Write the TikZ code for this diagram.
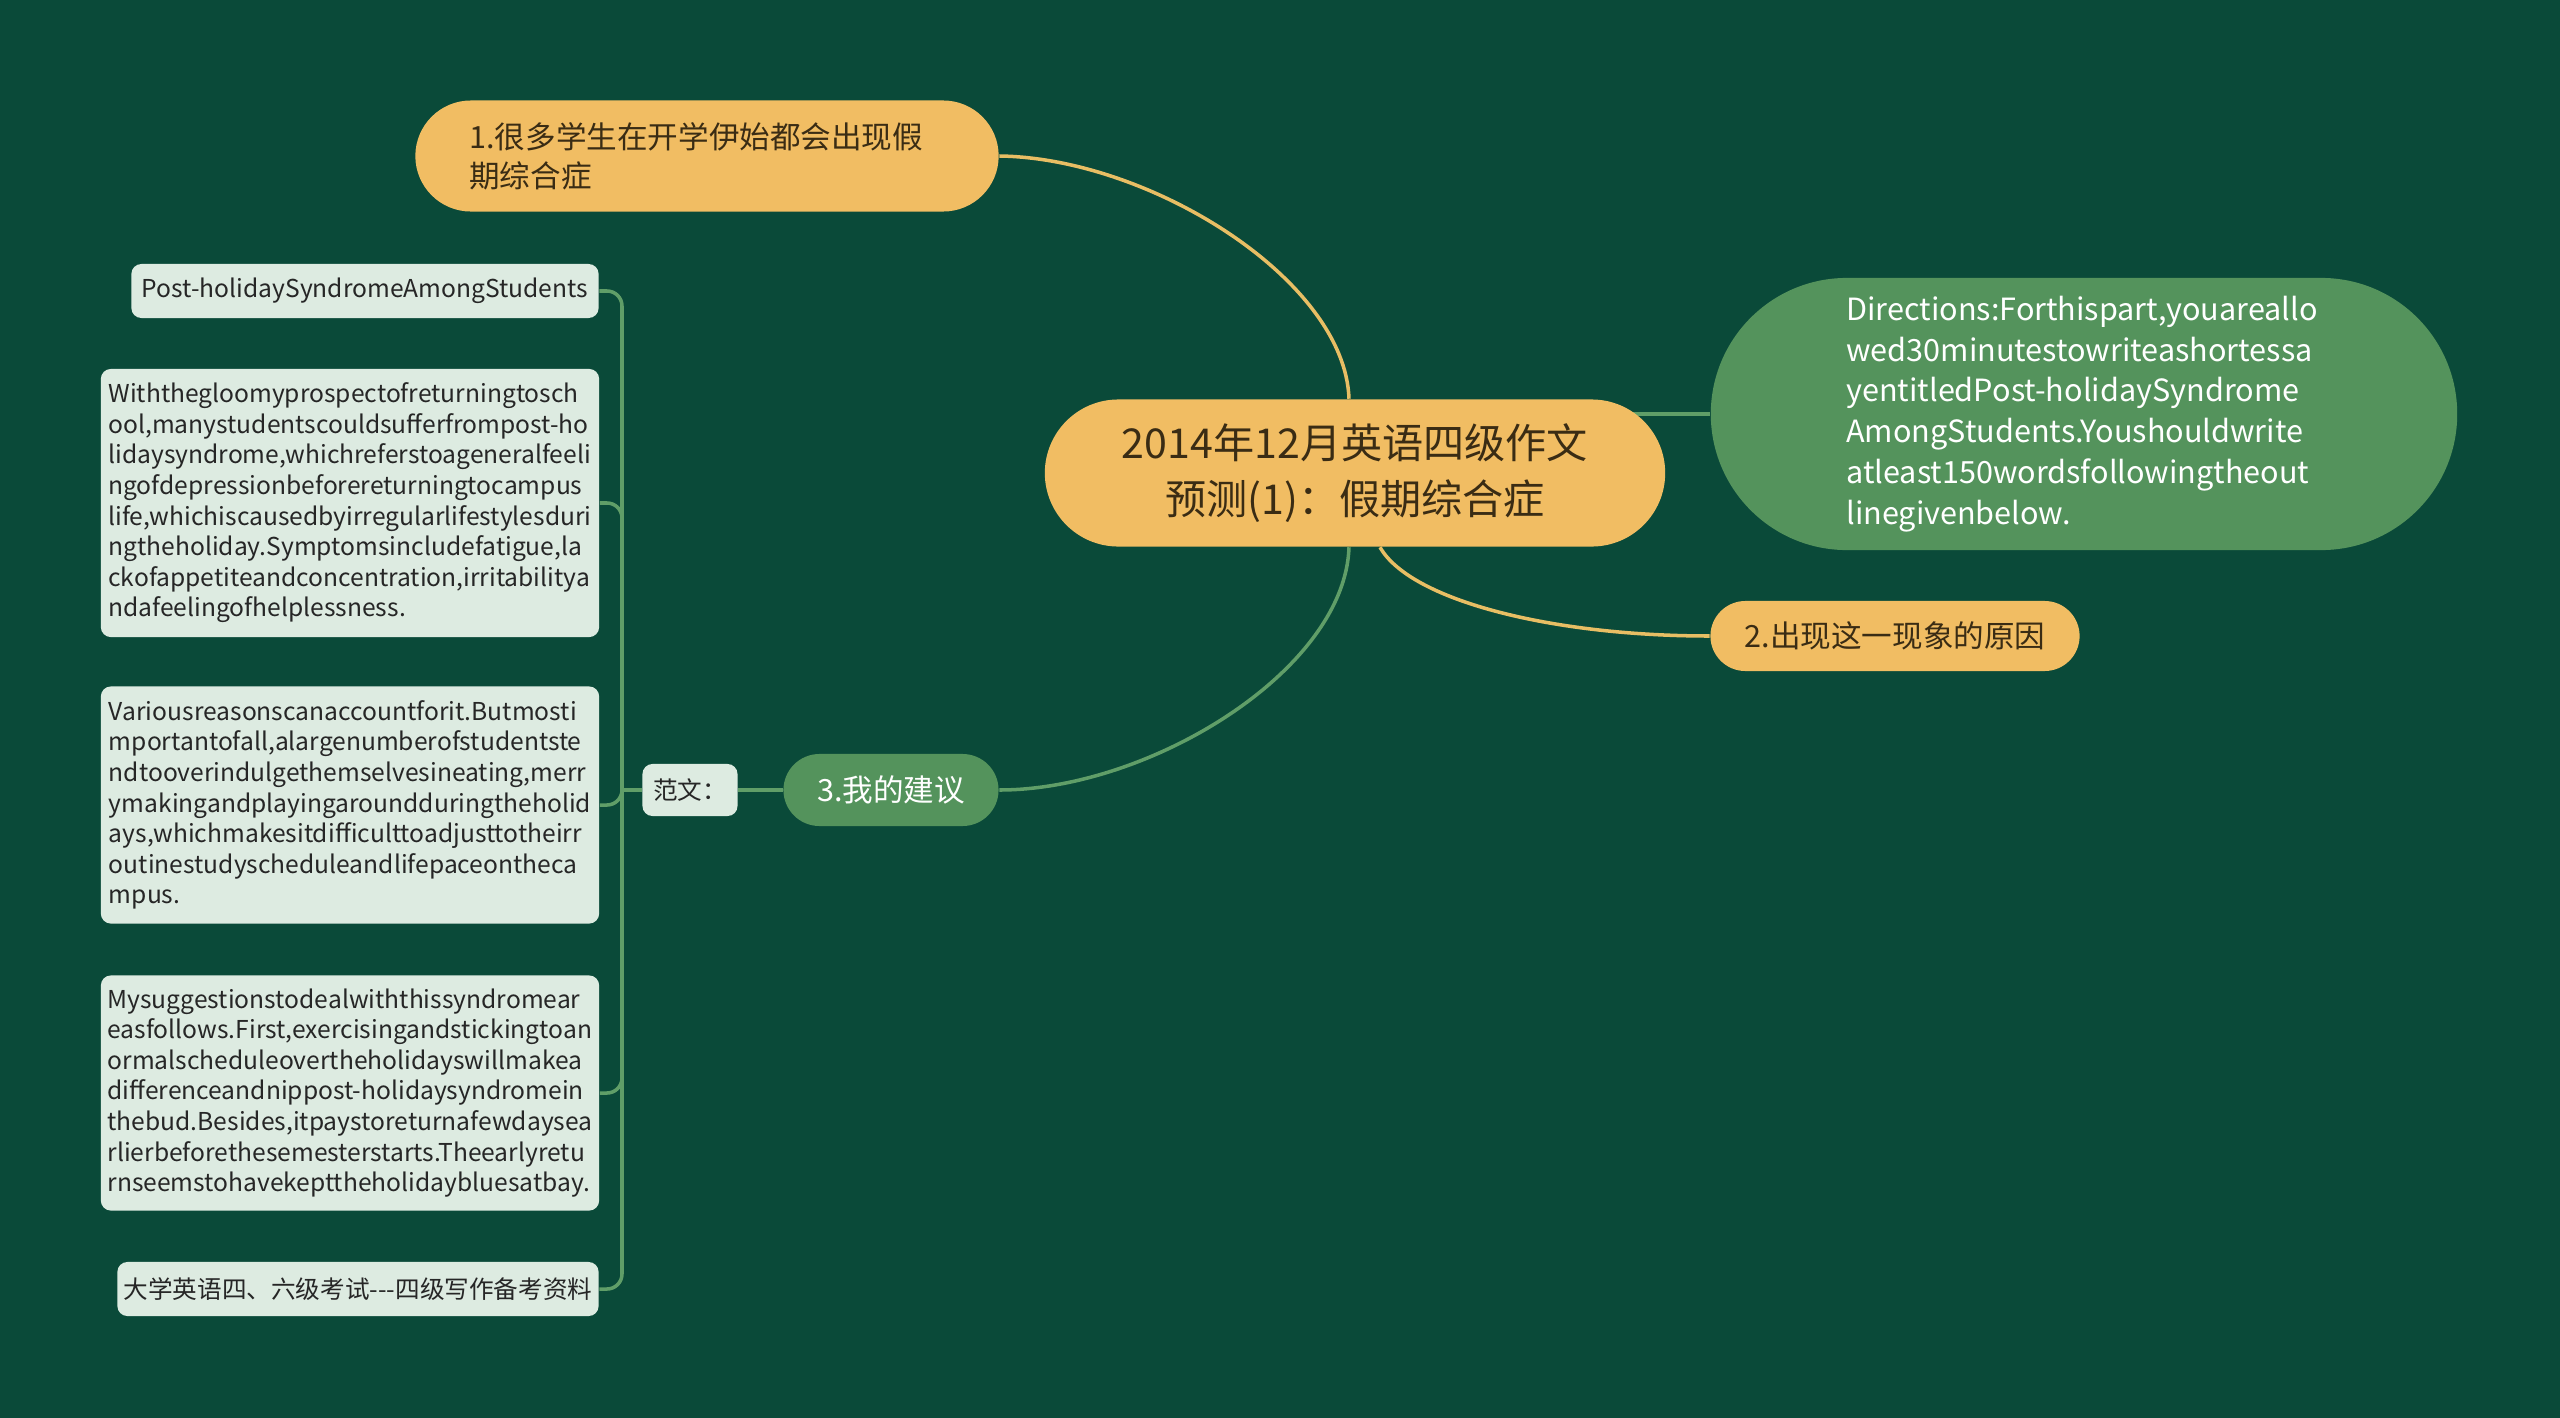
\documentclass[tikz,border=0pt]{standalone}
\usepackage{fontspec}
\setmainfont{Noto Sans CJK SC}
\usepackage{tikz}
\usetikzlibrary{positioning,backgrounds}
\definecolor{mapbg}{RGB}{10,74,57}
\definecolor{maporange}{RGB}{241,189,99}
\definecolor{mapgreen}{RGB}{84,147,92}
\definecolor{mapleaf}{RGB}{221,235,225}
\definecolor{mapline}{RGB}{96,158,104}
\definecolor{mapyline}{RGB}{232,190,100}
\definecolor{maptext}{RGB}{58,44,20}

\begin{document}
\begin{tikzpicture}[x=0.01cm,y=-0.01cm,
  orangenode/.style={fill=maporange,text=maptext,inner sep=0pt},
  greennode/.style={fill=mapgreen,text=white,inner sep=0pt},
  leafnode/.style={fill=mapleaf,text=black!85,rounded corners=0.1cm,inner sep=0pt,
    align=left,font=\fontsize{7.0}{8.7}\selectfont},
  bigfont/.style={font=\fontsize{8.7}{11.2}\selectfont},
  yline/.style={mapyline,line width=1pt},
  gline/.style={mapline,line width=1pt}]
\node[orangenode,minimum width=6.2cm,minimum height=1.47cm,rounded corners=0.735cm,
  align=center,font=\fontsize{11.7}{16}\selectfont] (ctr) at (1355,473)
  {2014年12月英语四级作文\\预测(1)：假期综合症};
\node[orangenode,bigfont,minimum width=5.83cm,minimum height=1.11cm,rounded corners=0.555cm,
  text width=4.75cm,align=left] (n1) at (707,156)
  {1.很多学生在开学伊始都会出现假\\期综合症};
\node[greennode,minimum width=7.46cm,minimum height=2.72cm,rounded corners=1.36cm,
  text width=4.75cm,align=left,font=\fontsize{8.7}{11.6}\selectfont] (dir) at (2084,414)
  {Directions:Forthispart,youareallo\\wed30minutestowriteashortessa\\yentitledPost-holidaySyndrome\\AmongStudents.Youshouldwrite\\atleast150wordsfollowingtheout\\linegivenbelow.};
\node[orangenode,bigfont,minimum width=3.69cm,minimum height=0.70cm,rounded corners=0.35cm]
  (n2) at (1895,636) {2.出现这一现象的原因};
\node[greennode,bigfont,minimum width=2.15cm,minimum height=0.72cm,rounded corners=0.36cm]
  (n3) at (891,790) {3.我的建议};
\node[leafnode,minimum width=0.95cm,minimum height=0.52cm] (fw) at (690,790) {范文：};
\coordinate (jn) at (622,790);
\node[leafnode,minimum width=4.67cm,minimum height=0.54cm] (title) at (365,291)
  {Post-holidaySyndromeAmongStudents};
\node[leafnode,minimum width=4.98cm,minimum height=2.68cm] (pa) at (350,503)
  {Withthegloomyprospectofreturningtosch\\ool,manystudentscouldsufferfrompost-ho\\lidaysyndrome,whichreferstoageneralfeeli\\ngofdepressionbeforereturningtocampus\\life,whichiscausedbyirregularlifestylesduri\\ngtheholiday.Symptomsincludefatigue,la\\ckofappetiteandconcentration,irritabilitya\\ndafeelingofhelplessness.};
\node[leafnode,minimum width=4.98cm,minimum height=2.37cm] (pb) at (350,805)
  {Variousreasonscanaccountforit.Butmosti\\mportantofall,alargenumberofstudentste\\ndtooverindulgethemselvesineating,merr\\ymakingandplayingaroundduringtheholid\\ays,whichmakesitdifficulttoadjusttotheirr\\outinestudyscheduleandlifepaceontheca\\mpus.};
\node[leafnode,minimum width=4.98cm,minimum height=2.35cm] (pc) at (350,1093)
  {Mysuggestionstodealwiththissyndromear\\easfollows.First,exercisingandstickingtoan\\ormalscheduleovertheholidayswillmakea\\differenceandnippost-holidaysyndromein\\thebud.Besides,itpaystoreturnafewdaysea\\rlierbeforethesemesterstarts.Theearlyretu\\rnseemstohavekepttheholidaybluesatbay.};
\node[leafnode,minimum width=4.81cm,minimum height=0.54cm] (last) at (358,1289)
  {大学英语四、六级考试-{}-{}-四级写作备考资料};
\begin{scope}[on background layer]
\fill[mapbg] (0,0) rectangle (2560,1418);
\draw[yline] (n1.east) .. controls (1150,158) and (1345,280) .. ([xshift=-0.06cm]ctr.north);
\draw[gline] ([xshift=-0.06cm]ctr.south) .. controls (1345,670) and (1150,790) .. (n3.east);
\draw[yline] ([xshift=0.25cm]ctr.south) .. controls (1410,600) and (1550,636) .. (n2.west);
\draw[gline] (dir.west) -- (dir.west -| ctr.center);
\draw[gline] (n3) -- (fw);
\draw[gline] (fw) -- (jn);
\foreach \n in {title,pa,pb,pc,last}
  \draw[gline,rounded corners=0.15cm] (jn) |- (\n.east);
\end{scope}
\end{tikzpicture}
\end{document}
